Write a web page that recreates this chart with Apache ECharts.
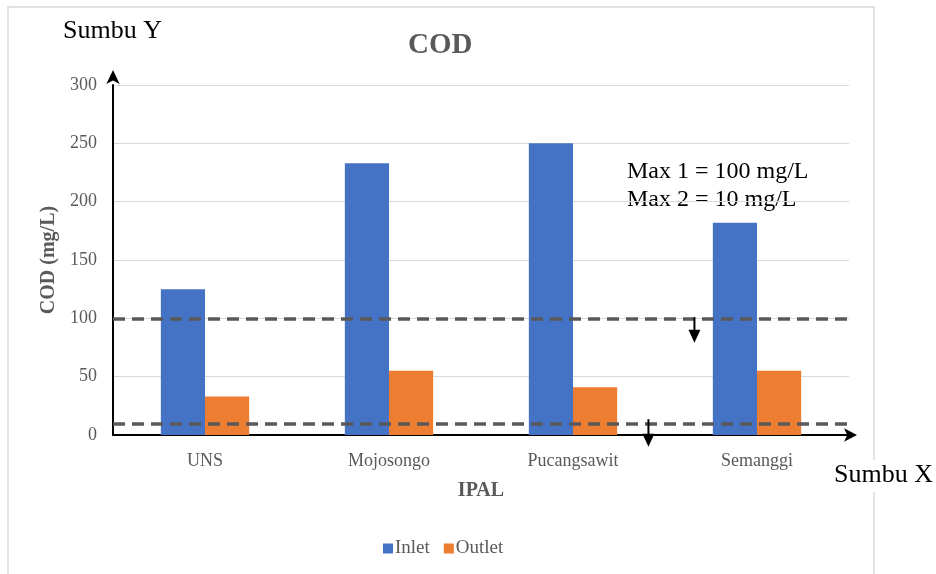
<!DOCTYPE html>
<html>
<head>
<meta charset="utf-8">
<script src="https://cdn.jsdelivr.net/npm/echarts@6/dist/echarts.min.js"></script>
<style>
  html, body { margin: 0; padding: 0; background: #ffffff; }
  #chart { width: 936px; height: 574px; }
</style>
</head>
<body>
<div id="chart"></div>
<script>
// COD per IPAL (mg/L)
const categories = ['UNS', 'Mojosongo', 'Pucangsawit', 'Semanggi'];
const inlet = [125, 233, 250, 182];
const outlet = [33, 55, 41, 55];
const yTicks = { min: 0, max: 300, interval: 50 };
// Quality limits: Max 1 = 100 mg/L, Max 2 = 10 mg/L
const limits = [100, 10];
// Down arrows under each limit line: [x (category units), top y, tip y]
const limitArrows = [
  [2.66, 101, 79],
  [2.41, 13.5, -10]
];

const SERIF = "'Liberation Serif', 'Times New Roman', serif";
const GRAY = '#595959';

const chart = echarts.init(document.getElementById('chart'), null, { renderer: 'canvas' });

// Vertical arrow with a filled triangular head at its lower end
function renderArrow(params, api) {
  const top = api.coord([api.value(0), api.value(1)]);
  const tip = api.coord([api.value(0), api.value(2)]);
  const headLen = 13, headHalf = 6;
  return {
    type: 'group',
    children: [
      {
        type: 'line',
        shape: { x1: top[0], y1: top[1], x2: tip[0], y2: tip[1] - headLen + 1 },
        style: { stroke: '#000000', lineWidth: 2 }
      },
      {
        type: 'polygon',
        shape: { points: [[tip[0] - headHalf, tip[1] - headLen], [tip[0] + headHalf, tip[1] - headLen], [tip[0], tip[1]]] },
        style: { fill: '#000000' }
      }
    ]
  };
}

chart.setOption({
  animation: false,
  backgroundColor: '#ffffff',
  title: {
    text: 'COD',
    left: 403,
    top: 26,
    textStyle: { fontFamily: SERIF, fontSize: 29, fontWeight: 'bold', color: GRAY }
  },
  legend: {
    data: ['Inlet', 'Outlet'],
    left: 378,
    top: 534,
    icon: 'rect',
    itemWidth: 10,
    itemHeight: 10,
    itemGap: 14,
    textStyle: { fontFamily: SERIF, fontSize: 19, color: GRAY, padding: [0, 0, 0, -3] }
  },
  grid: { left: 113, right: 87, top: 85, bottom: 139 },
  xAxis: [
    {
      type: 'category',
      data: categories,
      name: 'IPAL',
      nameLocation: 'middle',
      nameGap: 46,
      nameTextStyle: { fontFamily: SERIF, fontSize: 20, fontWeight: 'bold', color: GRAY },
      axisLine: {
        show: true,
        lineStyle: { color: '#000000', width: 2 },
        symbol: ['none', 'arrow'],
        symbolSize: [10, 13],
        symbolOffset: [0, 8]
      },
      axisTick: { show: false },
      axisLabel: { fontFamily: SERIF, fontSize: 18, color: GRAY, margin: 17 },
      splitLine: { show: false }
    },
    {
      type: 'value',
      min: -0.5,
      max: 3.5,
      show: false
    }
  ],
  yAxis: {
    type: 'value',
    min: yTicks.min,
    max: yTicks.max,
    interval: yTicks.interval,
    name: 'COD (mg/L)',
    nameLocation: 'middle',
    nameGap: 52,
    nameTextStyle: { fontFamily: SERIF, fontSize: 20, fontWeight: 'bold', color: GRAY },
    axisLine: {
      show: true,
      onZero: false,
      lineStyle: { color: '#000000', width: 2 },
      symbol: ['none', 'arrow'],
      symbolSize: [10, 14],
      symbolOffset: [0, 15]
    },
    axisTick: { show: false },
    axisLabel: { fontFamily: SERIF, fontSize: 18, color: GRAY, margin: 16 },
    splitLine: { show: true, lineStyle: { color: '#d9d9d9', width: 1 } }
  },
  series: [
    {
      name: 'Inlet',
      type: 'bar',
      data: inlet,
      barGap: '0%',
      barCategoryGap: '52%',
      itemStyle: { color: '#4472C4' },
      z: 2,
      markLine: {
        silent: true,
        symbol: ['none', 'none'],
        label: { show: false },
        lineStyle: { color: GRAY, type: [12, 7], width: 3.5 },
        data: limits.map(v => ({ yAxis: v })),
        z: 5
      }
    },
    {
      name: 'Outlet',
      type: 'bar',
      data: outlet,
      itemStyle: { color: '#ED7D31' },
      z: 2
    },
    {
      name: 'arrows',
      type: 'custom',
      xAxisIndex: 1,
      data: limitArrows,
      encode: { x: 0, y: [1, 2] },
      renderItem: renderArrow,
      clip: false,
      silent: true,
      z: 6
    }
  ],
  graphic: [
    {
      type: 'rect',
      shape: { x: 8, y: 7, width: 866, height: 600 },
      style: { fill: 'none', stroke: '#d9d9d9', lineWidth: 1.5 },
      silent: true,
      z: -1
    },
    {
      type: 'text',
      left: 63,
      top: 18,
      style: { text: 'Sumbu Y', fontFamily: SERIF, fontSize: 26, fill: '#000000' }
    },
    {
      type: 'text',
      left: 832,
      top: 460,
      style: {
        text: 'Sumbu X', fontFamily: SERIF, fontSize: 26, fill: '#000000',
        backgroundColor: '#ffffff', padding: [2, 2, 4, 2]
      }
    },
    {
      type: 'text',
      left: 627,
      top: 158,
      style: {
        text: 'Max 1 = 100 mg/L\nMax 2 = 10 mg/L',
        fontFamily: SERIF, fontSize: 24, lineHeight: 28, fill: '#000000'
      }
    }
  ]
});
</script>
</body>
</html>
